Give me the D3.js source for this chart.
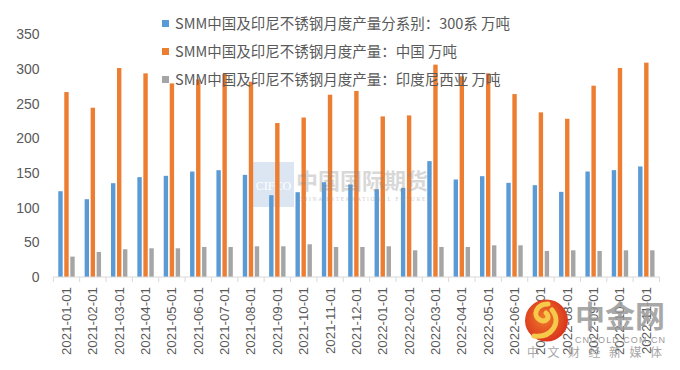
<!DOCTYPE html>
<html><head><meta charset="utf-8">
<script src="https://cdn.jsdelivr.net/npm/d3@7/dist/d3.min.js"></script>
<style>
html,body{margin:0;padding:0;background:#fff;}
svg{display:block;}
</style></head>
<body>
<svg id="chart" width="680" height="370"></svg>
<script>
const categories = ["2021-01-01","2021-02-01","2021-03-01","2021-04-01","2021-05-01","2021-06-01","2021-07-01","2021-08-01","2021-09-01","2021-10-01","2021-11-01","2021-12-01","2022-01-01","2022-02-01","2022-03-01","2022-04-01","2022-05-01","2022-06-01","2022-07-01","2022-08-01","2022-09-01","2022-10-01","2022-11-01"];
const series300 = [123.7,112.2,135.3,144.0,145.9,152.1,154.0,147.3,118.0,122.3,136.7,133.4,126.6,128.6,167.1,140.6,145.4,135.8,132.4,122.8,152.1,154.1,159.4];
const seriesChina = [266.7,244.1,301.4,293.7,279.2,285.0,292.7,281.6,222.0,230.0,262.9,268.2,231.6,233.0,306.2,289.4,293.7,263.8,237.4,228.2,275.9,301.4,309.1];
const seriesIndonesia = [29.4,36.1,40.0,41.4,41.4,43.3,43.3,44.3,44.3,47.2,43.3,43.3,44.3,38.5,43.3,43.3,45.7,45.7,37.6,38.5,37.6,38.5,38.5];
const seriesNames = ["SMM中国及印尼不锈钢月度产量分系别：300系 万吨","SMM中国及印尼不锈钢月度产量：中国 万吨","SMM中国及印尼不锈钢月度产量：印度尼西亚 万吨"];
const seriesColors = ["#5B9BD5","#ED7D31","#A5A5A5"];
const yTicks = [0,50,100,150,200,250,300,350];

const allSeries = [series300, seriesChina, seriesIndonesia];
const svg = d3.select("#chart");
const font = "'Noto Sans CJK SC','Noto Sans',sans-serif";
const textColor = "#595959";

const x0 = d3.scaleBand().domain(categories).range([53.3, 659.5]).paddingInner(0).paddingOuter(0);
const groupW = 16.4;
const x1 = d3.scaleBand().domain(d3.range(3)).range([0, groupW]).paddingInner(0.267).paddingOuter(0);
const y = d3.scaleLinear().domain([0, 350]).range([277, 34.3]);

// watermark (CIFCO) box behind bars
const wm = svg.append("g");
wm.append("rect").attr("x",253).attr("y",162).attr("width",41).attr("height",45).attr("fill","#dbe6f2");
wm.append("text").attr("x",273.5).attr("y",190).attr("text-anchor","middle").attr("font-family","'Liberation Serif',serif").attr("font-size",12).attr("fill","#ffffff").text("CIFCO");

// bars
const gBars = svg.append("g");
allSeries.forEach((vals, si) => {
  gBars.selectAll(null).data(categories).enter().append("rect")
    .attr("x", (d) => x0(d) + (x0.bandwidth() - groupW) / 2 + x1(si))
    .attr("width", x1.bandwidth())
    .attr("y", (d, i) => y(vals[i]))
    .attr("height", (d, i) => y(0) - y(vals[i]))
    .attr("fill", seriesColors[si]);
});

// watermark text over bars
svg.append("text").attr("x",296).attr("y",189).attr("font-family",font).attr("font-weight","bold").attr("font-size",22).attr("fill","#8c8c8c").attr("opacity",0.33).text("中国国际期货");
svg.append("text").attr("x",298).attr("y",201).attr("font-family","'Liberation Serif',serif").attr("font-size",5.5).attr("fill","#9a9a9a").attr("opacity",0.5).attr("textLength",132).text("CHINA INTERNATIONAL FUTURES");

// x axis
const gx = svg.append("g").attr("transform", `translate(0,${y(0)})`);
gx.append("line").attr("x1",53.3).attr("x2",659.5).attr("y1",0).attr("y2",0).attr("stroke","#d9d9d9").attr("stroke-width",1);
const bounds = categories.map(c => x0(c)).concat([x0.range()[1]]);
gx.selectAll(null).data(bounds).enter().append("line")
  .attr("x1", d => d).attr("x2", d => d).attr("y1", 0).attr("y2", 5)
  .attr("stroke", "#d9d9d9");
gx.selectAll(".xl").data(categories).enter().append("text")
  .attr("transform", d => `translate(${x0(d) + x0.bandwidth()/2 + 4.5},${10}) rotate(-90)`)
  .attr("text-anchor","end")
  .attr("font-family","'Liberation Sans',Arial,sans-serif")
  .attr("font-size",13.3)
  .attr("fill",textColor)
  .text(d => d);

// y axis labels
const gy = svg.append("g");
gy.selectAll(null).data(yTicks).enter().append("text")
  .attr("x", 39.5).attr("y", d => y(d) + 5)
  .attr("text-anchor","end")
  .attr("font-family","'Liberation Sans',Arial,sans-serif")
  .attr("font-size",14)
  .attr("fill",textColor)
  .text(d => d);

// legend
const lg = svg.append("g");
seriesNames.forEach((name, i) => {
  const cy = 23.5 + i * 28;
  lg.append("rect").attr("x",162).attr("y",cy-3.5).attr("width",7).attr("height",7).attr("fill",seriesColors[i]);
  lg.append("text").attr("x",175).attr("y",cy+5).attr("font-family",font).attr("font-size",14.5).attr("fill",textColor).text(name);
});

// cngold watermark
const cg = svg.append("g");
const grad = svg.append("defs").append("radialGradient").attr("id","rg").attr("cx","45%").attr("cy","45%").attr("r","60%");
grad.append("stop").attr("offset","0%").attr("stop-color","#f07a2a");
grad.append("stop").attr("offset","100%").attr("stop-color","#d8301c");
cg.append("ellipse").attr("cx",546.5).attr("cy",320.5).attr("rx",21.5).attr("ry",21).attr("fill","url(#rg)");
cg.append("path").attr("d","M548,304 C536,304 532,316 540,320 C546,323 551,317 546,313 M552,310 C562,322 552,338 534,336")
  .attr("fill","none").attr("stroke","#f6c94a").attr("stroke-width",5).attr("stroke-linecap","round");
cg.append("text").attr("x",575).attr("y",327).attr("font-family",font).attr("font-weight","bold").attr("font-size",30).attr("fill","#9a9a9a").attr("opacity",0.85).text("中金网");
cg.append("text").attr("x",575).attr("y",343).attr("font-family","'Liberation Sans',sans-serif").attr("font-size",9).attr("fill","#9a9a9a").attr("textLength",90).text("CNGOLD.COM.CN");
cg.append("text").attr("x",527).attr("y",357).attr("font-family",font).attr("font-size",12).attr("fill","#a8a8a8").attr("textLength",135).text("中文财经新媒体");
</script>
</body></html>
